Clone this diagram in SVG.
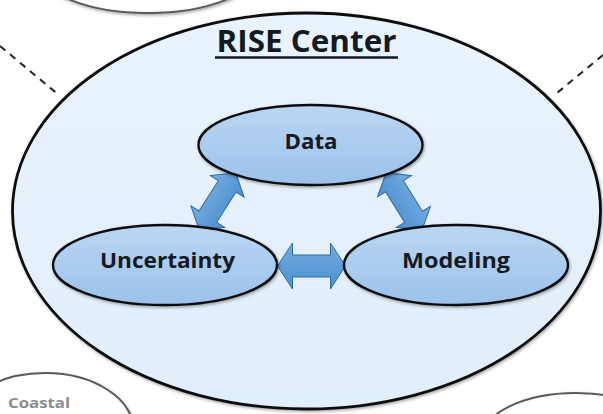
<svg xmlns="http://www.w3.org/2000/svg" width="603" height="414" viewBox="0 0 603 414">
  <style>
    .outer { fill: #ffffff; stroke: #5a5a5a; stroke-width: 2; }
    .main { fill: url(#mainFill); stroke: #111; stroke-width: 2.8; }
    .node { fill: url(#nodeFill); stroke: #111; stroke-width: 2.4; }
    .lbl { font-family: "Open Sans", "Liberation Sans", sans-serif; font-weight: bold; fill: #141a24; text-anchor: middle; }
    .arrow { fill: url(#arrowFill); stroke: #2f68a8; stroke-width: 1; stroke-linejoin: miter; }
    .dash { stroke: #222; stroke-width: 2; stroke-dasharray: 7 6; fill: none; }
  </style>
  <defs>
    <linearGradient id="mainFill" x1="0" y1="0" x2="0" y2="1">
      <stop offset="0" stop-color="#e9f3fd"/>
      <stop offset="1" stop-color="#e1eefb"/>
    </linearGradient>
    <linearGradient id="nodeFill" x1="0" y1="0" x2="0" y2="1">
      <stop offset="0" stop-color="#bad6f3"/>
      <stop offset="1" stop-color="#9bc2ea"/>
    </linearGradient>
    <linearGradient id="arrowFill" x1="0" y1="0" x2="0" y2="1">
      <stop offset="0" stop-color="#74acdf"/>
      <stop offset="1" stop-color="#4d8fd0"/>
    </linearGradient>
    <filter id="sh" x="-10%" y="-10%" width="120%" height="120%">
      <feDropShadow dx="1" dy="1.5" stdDeviation="1.5" flood-color="#000" flood-opacity="0.35"/>
    </filter>
  </defs>

  <!-- surrounding (cut-off) ellipses -->
  <g id="outer-top">
    <ellipse class="outer" cx="148" cy="-30" rx="108" ry="43" filter="url(#sh)"/>
  </g>
  <g id="outer-coastal">
    <ellipse class="outer" cx="45" cy="431" rx="89" ry="58" filter="url(#sh)"/>
    <text x="8" y="408" font-family="Open Sans, Liberation Sans, sans-serif" font-weight="bold" font-size="15" fill="#8c8c8c" textLength="62" lengthAdjust="spacingAndGlyphs">Coastal</text>
  </g>
  <g id="outer-bottom-right">
    <ellipse class="outer" cx="576" cy="441" rx="96" ry="48" filter="url(#sh)"/>
  </g>

  <!-- dashed links to outer ellipses -->
  <g id="outer-links">
    <line class="dash" x1="0" y1="46" x2="60" y2="96"/>
    <line class="dash" x1="603" y1="55" x2="557" y2="93"/>
  </g>

  <!-- RISE Center -->
  <g id="rise-center">
    <ellipse class="main" cx="306.5" cy="211" rx="294" ry="198" filter="url(#sh)"/>
    <text class="lbl" x="306.5" y="52" font-size="31" textLength="180" lengthAdjust="spacingAndGlyphs">RISE Center</text>
    <line x1="215" y1="57.5" x2="398" y2="57.5" stroke="#141a24" stroke-width="2.5"/>
  </g>

  <!-- connectors -->
  <g id="connectors">
    <path class="arrow" transform="translate(217.5 201.5) rotate(-57.5)" d="M -34,0 L -18,-20 L -18,-10.5 L 18,-10.5 L 18,-20 L 34,0 L 18,20 L 18,10.5 L -18,10.5 L -18,20 Z"/>
    <path class="arrow" transform="translate(404 201.5) rotate(58.3)" d="M -34,0 L -18,-20 L -18,-10.5 L 18,-10.5 L 18,-20 L 34,0 L 18,20 L 18,10.5 L -18,10.5 L -18,20 Z"/>
    <path class="arrow" transform="translate(311.5 266)" d="M -34,0 L -19,-23 L -19,-11 L 19,-11 L 19,-23 L 34,0 L 19,23 L 19,11 L -19,11 L -19,23 Z"/>
  </g>

  <g id="node-data">
    <ellipse class="node" cx="310.5" cy="145" rx="112" ry="40" filter="url(#sh)"/>
    <text class="lbl" x="311" y="149" font-size="22" textLength="53" lengthAdjust="spacingAndGlyphs">Data</text>
  </g>
  <g id="node-uncertainty">
    <ellipse class="node" cx="165" cy="265" rx="112" ry="40" filter="url(#sh)"/>
    <text class="lbl" x="167.5" y="268" font-size="22" textLength="135" lengthAdjust="spacingAndGlyphs">Uncertainty</text>
  </g>
  <g id="node-modeling">
    <ellipse class="node" cx="456" cy="265" rx="112" ry="40" filter="url(#sh)"/>
    <text class="lbl" x="456" y="268" font-size="22" textLength="108" lengthAdjust="spacingAndGlyphs">Modeling</text>
  </g>
</svg>
